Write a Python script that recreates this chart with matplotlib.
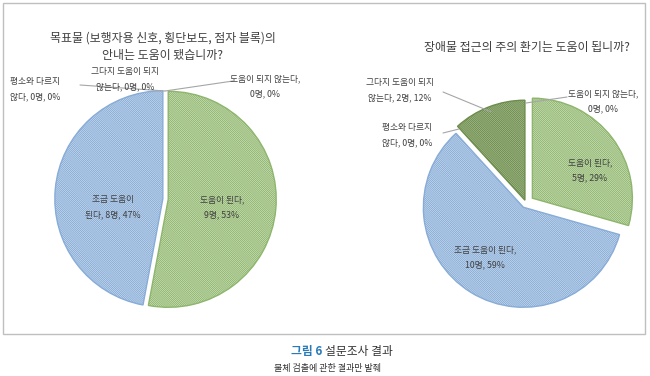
import matplotlib.pyplot as plt
import numpy as np
from matplotlib.patches import Rectangle

plt.rcParams['font.family'] = ['Noto Sans CJK KR', 'DejaVu Sans']
plt.rcParams['hatch.linewidth'] = 0.7

# category order (clockwise from top)
categories = ['도움이 된다', '조금 도움이 된다', '평소와 다르지 않다',
              '그다지 도움이 되지 않는다', '도움이 되지 않는다']
left_counts = [9, 8, 0, 0, 0]
right_counts = [5, 10, 0, 2, 0]
left_title = '목표물 (보행자용 신호, 횡단보도, 점자 블록)의\n안내는 도움이 됐습니까?'
right_title = '장애물 접근의 주의 환기는 도움이 됩니까?'

faces = ['#e2edd6', '#dce7f4', '#e2edd6', '#b9cba5', '#e2edd6']
edges = ['#8db56c', '#87acd7', '#8db56c', '#6c8c4c', '#8db56c']

W, H = 650, 376
fig = plt.figure(figsize=(6.5, 3.76), dpi=100)


def fx(x):
    return x / W


def fy(y):
    return 1 - y / H


def pct(v, tot):
    return int(round(100 * v / tot))


def draw_pie(cx, cy, r, counts, explode):
    lim = 1.2
    half = lim * r
    ax = fig.add_axes([fx(cx - half), fy(cy + half), 2 * half / W, 2 * half / H])
    wedges, _ = ax.pie(counts, startangle=90, counterclock=False,
                       explode=explode, colors=faces,
                       wedgeprops=dict(linewidth=1.0))
    for w, v, ec in zip(wedges, counts, edges):
        w.set_hatch('\\' * 16)
        w.set_edgecolor(ec)
        if v == 0:
            w.set_visible(False)
    ax.set_xlim(-lim, lim)
    ax.set_ylim(-lim, lim)
    ax.set_aspect('equal')
    ax.axis('off')
    return ax, wedges


def leader(ax, wedge, r_frac, px, py):
    # point on the wedge rim at its start angle
    th = np.deg2rad(wedge.theta2)
    c = wedge.center
    xy = (c[0] + wedge.r * r_frac * np.cos(th), c[1] + wedge.r * r_frac * np.sin(th))
    ax.annotate('', xy=xy, xycoords='data', xytext=(fx(px), fy(py)),
                textcoords='figure fraction',
                arrowprops=dict(arrowstyle='-', color='#a6a6a6', lw=0.8,
                                shrinkA=0, shrinkB=0))


lab_fs = 6.3
lab_col = '#404040'

# left pie
axL, wL = draw_pie(165, 199, 108, left_counts, [0.03, 0.02, 0, 0, 0])
tL = sum(left_counts)
fig.text(fx(163), fy(47), left_title, ha='center', va='center', fontsize=8.6,
         color='#404040', linespacing=1.5)
fig.text(fx(222), fy(207), f'{categories[0]},\n{left_counts[0]}명, {pct(left_counts[0], tL)}%',
         ha='center', va='center', fontsize=lab_fs, color=lab_col, linespacing=1.9)
fig.text(fx(113), fy(207), f'조금 도움이\n된다, {left_counts[1]}명, {pct(left_counts[1], tL)}%',
         ha='center', va='center', fontsize=lab_fs, color=lab_col, linespacing=1.9)
fig.text(fx(35), fy(89), f'평소와 다르지\n않다, {left_counts[2]}명, {pct(left_counts[2], tL)}%',
         ha='center', va='center', fontsize=lab_fs, color=lab_col, linespacing=1.9)
fig.text(fx(125), fy(79), f'그다지 도움이 되지\n않는다, {left_counts[3]}명, {pct(left_counts[3], tL)}%',
         ha='center', va='center', fontsize=lab_fs, color=lab_col, linespacing=1.9)
fig.text(fx(265), fy(86), f'도움이 되지 않는다,\n{left_counts[4]}명, {pct(left_counts[4], tL)}%',
         ha='center', va='center', fontsize=lab_fs, color=lab_col, linespacing=1.9)
leader(axL, wL[2], 1.0, 80, 85)
leader(axL, wL[4], 1.0, 233, 81)

# right pie
axR, wR = draw_pie(526, 203, 100, right_counts, [0.08, 0.05, 0, 0.03, 0])
tR = sum(right_counts)
fig.text(fx(527), fy(47), right_title, ha='center', va='center', fontsize=8.6,
         color='#404040')
fig.text(fx(590), fy(170), f'{categories[0]},\n{right_counts[0]}명, {pct(right_counts[0], tR)}%',
         ha='center', va='center', fontsize=lab_fs, color=lab_col, linespacing=1.9)
fig.text(fx(485), fy(257), f'{categories[1]},\n{right_counts[1]}명, {pct(right_counts[1], tR)}%',
         ha='center', va='center', fontsize=lab_fs, color=lab_col, linespacing=1.9)
fig.text(fx(407), fy(135), f'평소와 다르지\n않다, {right_counts[2]}명, {pct(right_counts[2], tR)}%',
         ha='center', va='center', fontsize=lab_fs, color=lab_col, linespacing=1.9)
fig.text(fx(400), fy(90), f'그다지 도움이 되지\n않는다, {right_counts[3]}명, {pct(right_counts[3], tR)}%',
         ha='center', va='center', fontsize=lab_fs, color=lab_col, linespacing=1.9)
fig.text(fx(603), fy(101), f'도움이 되지 않는다,\n{right_counts[4]}명, {pct(right_counts[4], tR)}%',
         ha='center', va='center', fontsize=lab_fs, color=lab_col, linespacing=1.9)
leader(axR, wR[2], 1.0, 443, 133)
leader(axR, wR[4], 1.0, 567, 97)
# line to the middle of the dark-green wedge rim
wd = wR[3]
thm = np.deg2rad((wd.theta1 + wd.theta2) / 2)
axR.annotate('', xy=(wd.center[0] + 0.95 * np.cos(thm), wd.center[1] + 0.95 * np.sin(thm)),
             xytext=(fx(443), fy(92)), textcoords='figure fraction',
             arrowprops=dict(arrowstyle='-', color='#a6a6a6', lw=0.8, shrinkA=0, shrinkB=0))

# frame
fig.patches.append(Rectangle((fx(3), fy(334)), fx(642), (331) / H, transform=fig.transFigure,
                             fill=False, edgecolor='#bfbfbf', lw=1.0))

# caption
fig.text(fx(325), fy(352), '그림 6 ', ha='right', va='center', fontsize=8.5,
         color='#2a7ab8', fontweight='bold')
fig.text(fx(325), fy(352), '설문조사 결과', ha='left', va='center', fontsize=8.5,
         color='#333333')
fig.text(fx(327), fy(368), '물체 검출에 관한 결과만 발췌', ha='center', va='center',
         fontsize=6.5, color='#333333')

fig.savefig('out.png', dpi=100)
